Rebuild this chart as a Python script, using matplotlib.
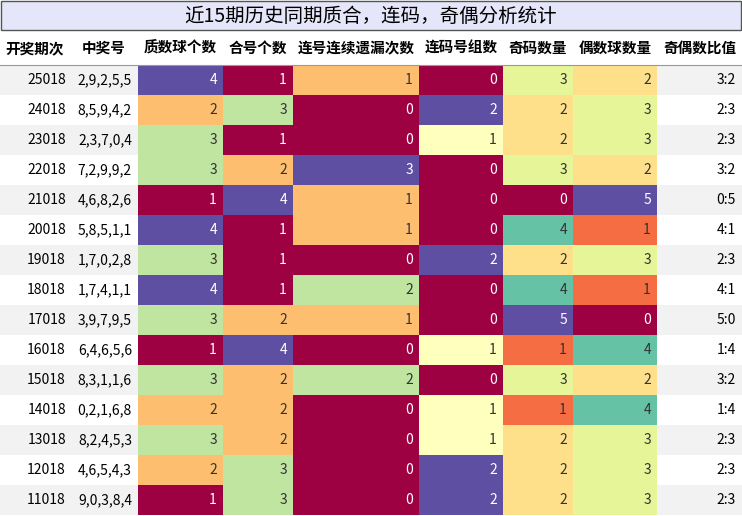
import matplotlib
matplotlib.use("Agg")
import matplotlib.pyplot as plt
import numpy as np
from matplotlib import cm, colors

plt.rcParams['font.family'] = ['Noto Sans CJK SC', 'DejaVu Sans']

title = "近15期历史同期质合，连码，奇偶分析统计"
headers = ["开奖期次", "中奖号", "质数球个数", "合号个数", "连号连续遗漏次数", "连码号组数", "奇码数量", "偶数球数量", "奇偶数比值"]
periods = ["25018","24018","23018","22018","21018","20018","19018","18018","17018","16018","15018","14018","13018","12018","11018"]
numbers = ["2,9,2,5,5","8,5,9,4,2","2,3,7,0,4","7,2,9,9,2","4,6,8,2,6","5,8,5,1,1","1,7,0,2,8","1,7,4,1,1","3,9,7,9,5","6,4,6,5,6","8,3,1,1,6","0,2,1,6,8","8,2,4,5,3","4,6,5,4,3","9,0,3,8,4"]
prime = [4,2,3,3,1,4,3,4,3,1,3,2,3,2,1]
composite = [1,3,1,2,4,1,1,1,2,4,2,2,2,3,3]
consec_miss = [1,0,0,3,1,1,0,2,1,0,2,0,0,0,0]
consec_groups = [0,2,1,0,0,0,2,0,0,1,0,1,1,2,2]
odd = [3,2,2,3,0,4,2,4,5,1,3,1,2,2,2]
even = [2,3,3,2,5,1,3,1,0,4,2,4,3,3,3]
ratio = ["3:2","2:3","2:3","3:2","0:5","4:1","2:3","4:1","5:0","1:4","3:2","1:4","2:3","2:3","2:3"]

W, H = 742, 516
fig = plt.figure(figsize=(W/100, H/100), dpi=100)
ax = fig.add_axes([0, 0, 1, 1])
ax.set_xlim(0, W); ax.set_ylim(H, 0); ax.axis('off')

col_x = [0, 70, 138, 223, 293, 419, 503, 573, 657, 742]
title_h = 30; head_top = 31; head_h = 34; row_h = 30
data_top = head_top + head_h

ax.add_patch(plt.Rectangle((1, 1), W-2, title_h-1, facecolor="#e6e6fa", edgecolor="#555555", lw=1))
ax.text(W/2, title_h/2+1, title, ha='center', va='center', fontsize=14)

for i, h in enumerate(headers):
    ax.text((col_x[i]+col_x[i+1])/2, head_top+head_h/2, h, ha='center', va='center', fontsize=10.5, fontweight='bold')
ax.plot([0, W], [data_top, data_top], color="#999999", lw=0.8)

cmap = plt.get_cmap('Spectral')
num_cols = [prime, composite, consec_miss, consec_groups, odd, even]
for r in range(len(periods)):
    y = data_top + r*row_h
    bg = "#f2f2f2" if r % 2 == 0 else "white"
    for c in (0, 1, 8):
        ax.add_patch(plt.Rectangle((col_x[c], y), col_x[c+1]-col_x[c], row_h, facecolor=bg, lw=0))
    ax.text(col_x[1]-4, y+row_h/2, periods[r], ha='right', va='center', fontsize=10)
    ax.text(col_x[2]-6, y+row_h/2, numbers[r], ha='right', va='center', fontsize=10)
    ax.text(col_x[9]-6, y+row_h/2, ratio[r], ha='right', va='center', fontsize=10)
    for k, vals in enumerate(num_cols):
        c = k + 2
        lo, hi = min(vals), max(vals)
        t = (vals[r]-lo)/(hi-lo)
        fc = cmap(t)
        lum = 0.299*fc[0]+0.587*fc[1]+0.114*fc[2]
        tc = "white" if lum < 0.5 else "#333333"
        ax.add_patch(plt.Rectangle((col_x[c], y), col_x[c+1]-col_x[c], row_h, facecolor=fc, lw=0))
        ax.text(col_x[c+1]-6, y+row_h/2, str(vals[r]), ha='right', va='center', fontsize=10, color=tc)

fig.savefig("out.png", dpi=100)
